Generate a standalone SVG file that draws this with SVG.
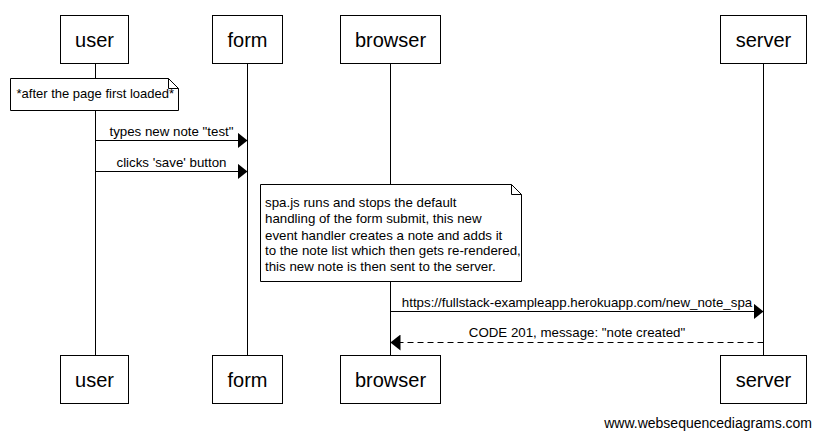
<svg xmlns="http://www.w3.org/2000/svg" width="821" height="439" viewBox="0 0 821 439">
<style>
text{font-family:"Liberation Sans",Arial,sans-serif;fill:#000}
.actor rect{fill:#fff;stroke:#000;stroke-width:1}
.actor text{font-size:20px;text-anchor:middle}
.life{stroke:#000;stroke-width:1}
.msg{stroke:#000;stroke-width:1;fill:none}
.dash{stroke-dasharray:6,4}
.lbl{font-size:13.3px;text-anchor:middle}
.note path{fill:#fff;stroke:#000;stroke-width:1}
.note text{font-size:13.3px}
.wm{font-size:14px;text-anchor:end}
</style>
<defs>
<marker id="ah" markerWidth="10" markerHeight="16" refX="10" refY="8" orient="auto" markerUnits="userSpaceOnUse">
<path d="M0,0 L10,8 L0,16 Z" fill="#000"/>
</marker>
</defs>
<rect width="821" height="439" fill="#fff"/>
<g id="lifelines">
<line class="life" x1="95.5" y1="64" x2="95.5" y2="355"/>
<line class="life" x1="247.5" y1="64" x2="247.5" y2="355"/>
<line class="life" x1="390.5" y1="64" x2="390.5" y2="355"/>
<line class="life" x1="763.5" y1="64" x2="763.5" y2="355"/>
</g>
<g id="user" class="actor">
<rect x="60.5" y="15.5" width="68" height="48"/>
<text x="94.5" y="47">user</text>
<rect x="60.5" y="355.5" width="68" height="48"/>
<text x="94.5" y="387">user</text>
</g>
<g id="form" class="actor">
<rect x="212.5" y="15.5" width="70" height="48"/>
<text x="247.5" y="47">form</text>
<rect x="212.5" y="355.5" width="70" height="48"/>
<text x="247.5" y="387">form</text>
</g>
<g id="browser" class="actor">
<rect x="340.5" y="15.5" width="100" height="48"/>
<text x="390.5" y="47">browser</text>
<rect x="340.5" y="355.5" width="100" height="48"/>
<text x="390.5" y="387">browser</text>
</g>
<g id="server" class="actor">
<rect x="720.5" y="15.5" width="86" height="48"/>
<text x="763.5" y="47">server</text>
<rect x="720.5" y="355.5" width="86" height="48"/>
<text x="763.5" y="387">server</text>
</g>
<g id="note1" class="note">
<path d="M10.5,78.5 H168.5 L178.5,88.5 V110.5 H10.5 Z M168.5,78.5 V88.5 H178.5"/>
<text x="16.5" y="98" style="font-size:13px">*after the page first loaded*</text>
</g>
<g id="note2" class="note">
<path d="M260.5,184.5 H511.5 L521.5,194.5 V281.5 H260.5 Z M511.5,184.5 V194.5 H521.5"/>
<text x="265" y="207">spa.js runs and stops the default</text>
<text x="265" y="223">handling of the form submit, this new</text>
<text x="265" y="239.5">event handler creates a note and adds it</text>
<text x="265" y="255">to the note list which then gets re-rendered,</text>
<text x="265" y="271">this new note is then sent to the server.</text>
</g>
<g id="connectors">
<line class="msg" x1="95.5" y1="140.5" x2="247.5" y2="140.5" marker-end="url(#ah)"/>
<text class="lbl" x="171.5" y="136">types new note "test"</text>
<line class="msg" x1="95.5" y1="171.5" x2="247.5" y2="171.5" marker-end="url(#ah)"/>
<text class="lbl" x="171.5" y="167">clicks 'save' button</text>
<line class="msg" x1="390.5" y1="311.5" x2="763.5" y2="311.5" marker-end="url(#ah)"/>
<text class="lbl" x="577" y="307">https://fullstack-exampleapp.herokuapp.com/new_note_spa</text>
<line class="msg dash" x1="763.5" y1="342.5" x2="390.5" y2="342.5" marker-end="url(#ah)"/>
<text class="lbl" x="577" y="337">CODE 201, message: "note created"</text>
</g>
<text class="wm" x="812" y="428">www.websequencediagrams.com</text>
</svg>
